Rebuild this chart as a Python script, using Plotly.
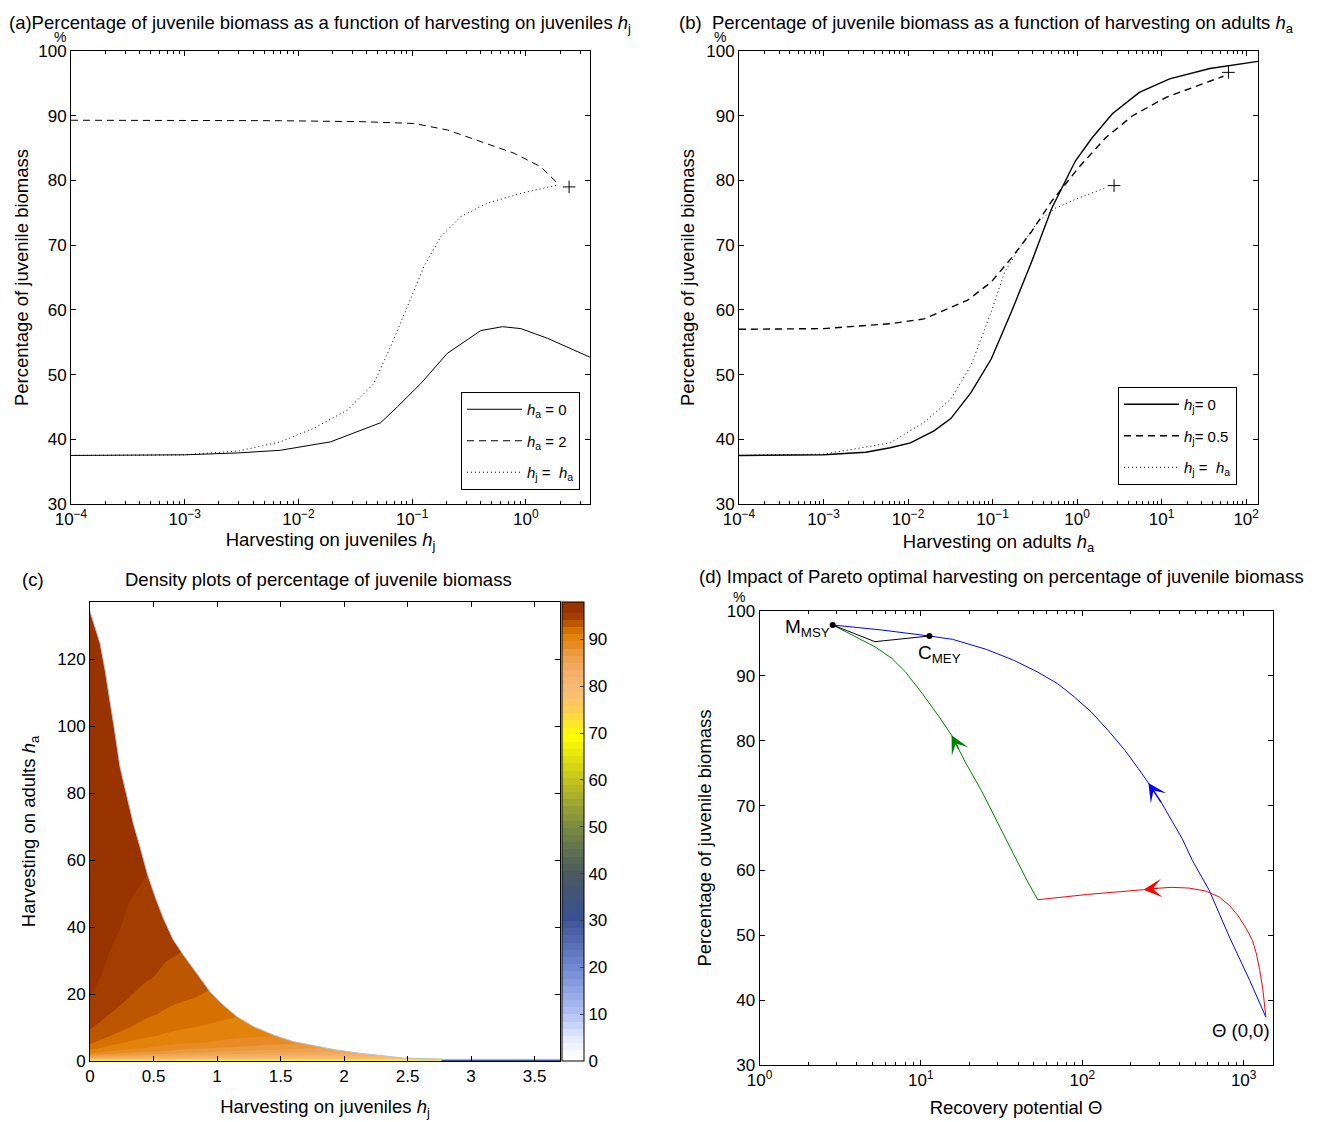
import numpy as np
import plotly.graph_objects as go

# ---------------- (a) harvesting on juveniles ----------------
a_hj_solid = [1e-4, 1e-3, 3e-3, 0.00692, 0.01914, 0.0527, 0.0741, 0.1189, 0.2042,
              0.4018, 0.6237, 0.9036, 1.552, 3.65]
a_pct_solid = [37.5, 37.6, 37.9, 38.3, 39.6, 42.55, 45.0, 48.6, 53.3,
               56.8, 57.4, 57.1, 55.6, 52.7]
a_hj_dash = [1e-4, 1e-3, 0.00693, 0.0376, 0.1038, 0.2042, 0.4018, 0.7889, 1.355, 1.901]
a_pct_dash = [89.3, 89.3, 89.23, 89.07, 88.8, 87.8, 86.0, 84.2, 82.1, 79.55]
a_hj_dot = [1e-4, 1e-3, 3e-3, 0.00692, 0.01365, 0.02685, 0.046, 0.0646, 0.0908, 0.127,
            0.1782, 0.2673, 0.4592, 0.9036, 1.901]
a_pct_dot = [37.5, 37.6, 38.2, 39.6, 41.7, 44.5, 48.6, 54.3, 60.5, 66.7,
             71.3, 74.4, 76.5, 78.0, 79.3]
a_plus_hj = [2.4]
a_plus_pct = [79.0]
a_names = ["<i>h</i><sub>a</sub> = 0", "<i>h</i><sub>a</sub> = 2", "<i>h</i><sub>j</sub> =  <i>h</i><sub>a</sub>"]

# ---------------- (b) harvesting on adults ----------------
b_ha_solid = [1e-4, 1e-3, 0.00316, 0.00615, 0.01067, 0.02028, 0.03206, 0.05546, 0.09638,
              0.1671, 0.2891, 0.5012, 0.9528, 1.507, 2.612, 5.445, 12.42, 37.24, 138]
b_pct_solid = [37.5, 37.6, 38.0, 38.7, 39.45, 41.3, 43.2, 47.2, 52.4,
               59.7, 67.4, 75.7, 83.0, 86.6, 90.3, 93.6, 95.7, 97.3, 98.4]
b_ha_dash = [1e-4, 1e-3, 0.00615, 0.01538, 0.0507, 0.09638, 0.1671, 0.2891, 0.5012,
             1.045, 2.178, 4.529, 11.32, 31.05, 53.83]
b_pct_dash = [57.0, 57.1, 57.85, 58.6, 61.5, 64.3, 68.0, 72.1, 76.8,
              82.0, 86.6, 90.0, 92.85, 94.9, 96.1]
b_ha_dot = [1e-4, 1e-3, 0.00615, 0.01538, 0.03206, 0.05546, 0.09638, 0.1393, 0.2198,
            0.3475, 0.5495, 1.045, 2.178]
b_pct_dot = [37.5, 37.7, 39.45, 42.6, 46.2, 51.4, 59.7, 65.9, 70.0,
             73.7, 75.7, 77.3, 78.85]
b_plus_ha = [61.7, 2.735]
b_plus_pct = [96.7, 79.2]
b_names = ["<i>h</i><sub>j</sub>= 0", "<i>h</i><sub>j</sub>= 0.5", "<i>h</i><sub>j</sub> =  <i>h</i><sub>a</sub>"]

log_ticks_ab = [1e-4, 1e-3, 1e-2, 1e-1, 1e0, 1e1, 1e2]
log_labels_ab = ["10<sup>−4</sup>", "10<sup>−3</sup>", "10<sup>−2</sup>", "10<sup>−1</sup>",
                 "10<sup>0</sup>", "10<sup>1</sup>", "10<sup>2</sup>"]
pct_ticks = [30, 40, 50, 60, 70, 80, 90, 100]

# ---------------- (c) density plot ----------------
c_hj = [0, 0.15, 0.3, 0.45, 0.6, 0.75, 0.95, 1.15, 1.45, 1.75, 2.1, 2.5, 2.76, 2.78, 3.7]
c_ha = [0, 0.5, 0.8, 1.2, 1.6, 2.2, 3, 4, 5.5, 7.5, 10, 14, 19, 25, 32, 42, 56, 75, 100, 137]
c_pct = [
    [68, 68, 68, 68, 68, 68, 68, 68, 68, 68, 68, 68, 68, 30, 30],
    [78.8, 78.4, 77.9, 77.5, 77.2, 76.9, 76.4, 76.1, 75.5, 75.1, 74.6, 74.2, 74.0, 30, 30],
    [82.3, 81.8, 81.3, 80.9, 80.6, 80.3, 80.0, 79.7, 79.3, 79.0, 78.6, 77.9, 77.6, 30, 30],
    [85.3, 84.5, 83.9, 83.4, 83.0, 82.7, 82.2, 81.9, 81.3, 80.9, 80.6, 80.2, 80.0, 30, 30],
    [87.3, 86.5, 85.8, 85.3, 84.8, 84.4, 83.9, 83.5, 82.9, 82.4, 81.9, 81.5, 81.3, 30, 30],
    [89.3, 88.2, 87.5, 87.0, 86.5, 86.1, 85.6, 85.2, 84.7, 84.1, 83.7, 83.1, 82.9, 30, 30],
    [90.8, 89.7, 89.0, 88.4, 88.0, 87.5, 87.0, 86.6, 86.1, 85.6, 85.2, 84.7, 84.5, 30, 30],
    [91.9, 90.7, 90.0, 89.6, 89.1, 88.7, 88.3, 87.9, 87.3, 86.8, 86.4, 85.8, 85.6, 30, 30],
    [92.9, 91.7, 91.0, 90.4, 90.0, 89.8, 89.5, 89.0, 88.5, 88.1, 87.7, 87.1, 86.9, 30, 30],
    [93.7, 92.7, 91.8, 91.3, 90.9, 90.5, 90.1, 89.9, 89.6, 89.1, 88.7, 88.3, 88.1, 30, 30],
    [94.3, 93.3, 92.7, 92.0, 91.5, 91.2, 90.9, 90.5, 90.1, 89.8, 89.6, 89.2, 89.0, 30, 30],
    [94.9, 94.2, 93.4, 92.9, 92.4, 92.0, 91.6, 91.3, 90.9, 90.5, 90.2, 89.9, 89.8, 30, 30],
    [95.7, 94.6, 94.2, 93.6, 93.1, 92.8, 92.4, 92.0, 91.5, 91.3, 90.9, 90.6, 90.5, 30, 30],
    [96.3, 95.2, 94.6, 94.3, 93.9, 93.4, 93.0, 92.7, 92.2, 91.8, 91.5, 91.1, 91.0, 30, 30],
    [96.9, 95.7, 95.0, 94.6, 94.3, 94.1, 93.6, 93.2, 92.8, 92.4, 92.0, 91.6, 91.5, 30, 30],
    [97.3, 96.0, 95.6, 95.1, 94.7, 94.5, 94.3, 94.0, 93.4, 93.0, 92.7, 92.3, 92.2, 30, 30],
    [97.4, 96.5, 95.9, 95.7, 95.2, 94.9, 94.7, 94.4, 94.2, 93.8, 93.3, 92.9, 92.8, 30, 30],
    [97.6, 97.1, 96.3, 96.0, 95.8, 95.5, 95.1, 94.8, 94.6, 94.4, 94.0, 93.5, 93.4, 30, 30],
    [97.9, 97.6, 96.8, 96.4, 96.2, 95.9, 95.8, 95.4, 95.1, 94.9, 94.5, 94.1, 94.0, 30, 30],
    [98.3, 98.3, 97.5, 97.0, 96.7, 96.3, 96.2, 95.9, 95.6, 95.4, 95.0, 94.6, 94.5, 30, 30],
]
# edge of the viable region (white above it)
c_edge_hj = [0, 0.039, 0.079, 0.118, 0.157, 0.197, 0.236, 0.289, 0.341, 0.394, 0.451,
             0.512, 0.577, 0.656, 0.735, 0.84, 0.945, 1.05, 1.155, 1.286, 1.444, 1.6,
             1.76, 1.94, 2.126, 2.31, 2.467, 2.76, 2.78, 3.7]
c_edge_ha = [134.4, 129.9, 124.9, 117, 108, 98, 88, 79, 71, 64, 56,
             49.2, 42.7, 36.2, 31.7, 26.2, 20.7, 16.7, 13.3, 10.3, 7.8, 5.8,
             4.6, 3.3, 2.3, 1.5, 0.9, 0.6, 0.5, 0.5]
c_xticks = [0, 0.5, 1, 1.5, 2, 2.5, 3, 3.5]
c_xlabels = ["0", "0.5", "1", "1.5", "2", "2.5", "3", "3.5"]
c_yticks = [0, 20, 40, 60, 80, 100, 120]
c_cbar_ticks = [0, 10, 20, 30, 40, 50, 60, 70, 80, 90]

# ---------------- (d) Pareto optimal harvesting ----------------
d_blue_theta = [2.84, 5.72, 11.3, 15.73, 25.47, 37.43, 52.48, 70.0, 89.13, 113.3, 144.2,
                183.6, 222.5, 257.0, 311.9, 359.7, 415.9, 480.8, 612.4, 816.6, 1091, 1374]
d_blue_pct = [97.84, 97.07, 96.14, 95.63, 94.08, 92.43, 90.63, 88.83, 86.77, 84.46, 81.63,
              78.54, 75.71, 73.49, 70.3, 67.73, 64.9, 61.55, 56.92, 49.72, 43.03, 37.37]
d_red_theta = [1374, 1349, 1310, 1259, 1200, 1133, 1040, 920.4, 816.6, 706.3, 583.4, 458.1,
               359.7, 283.1, 239.3, 107.9, 52.97]
d_red_pct = [37.37, 39.42, 41.99, 44.57, 47.14, 49.2, 51.0, 53.06, 54.6, 55.9, 56.82, 57.28,
             57.39, 57.23, 57.03, 56.3, 55.48]
d_green_theta = [52.97, 45.4, 37.43, 31.0, 23.66, 19.05, 15.49, 12.97, 10.19, 8.01, 6.61,
                 5.19, 4.08, 2.84]
d_green_pct = [55.48, 58.47, 62.58, 66.7, 72.36, 76.48, 80.85, 83.69, 87.29, 90.63, 92.69,
               94.49, 95.78, 97.84]
d_black_theta = [2.84, 5.19, 11.3]
d_black_pct = [97.84, 95.27, 96.14]
d_points_theta = [2.84, 11.3]
d_points_pct = [97.84, 96.14]
d_origin = (1374, 37.37)
# arrow heads: (head theta, head pct, tail theta, tail pct, colour)
d_arrows = [
    (15.49, 80.85, 17.3, 78.54, "green"),
    (257.0, 73.49, 311.9, 70.3, "blue"),
    (239.3, 57.03, 300.0, 57.25, "red"),
]
d_xticks = [1, 10, 100, 1000]
d_xlabels = ["10<sup>0</sup>", "10<sup>1</sup>", "10<sup>2</sup>", "10<sup>3</sup>"]

FONT = "Liberation Sans, Arial, Helvetica, sans-serif"
TICK = 17
LABEL = 18.5
# the page puts the figure 8 px in from the top-left corner
OFF = 8
PX_W, PX_H = 1324 - OFF, 1122 - OFF


def px(x):
    return (x - OFF) / PX_W


def py(y):
    return 1 - (y - OFF) / PX_H


def minor_logs(lo, hi):
    return [m * 10.0 ** e for e in range(lo, hi) for m in range(2, 10)]


def ax_style(**kw):
    d = dict(showline=True, linecolor="black", linewidth=1, mirror="ticks",
             ticks="inside", ticklen=5, tickcolor="black", showgrid=False,
             zeroline=False, automargin=False,
             tickfont=dict(size=TICK, color="black"),
             title_font=dict(size=LABEL, color="black"))
    d.update(kw)
    return d


fig = go.Figure()

# (a)
line_specs_a = [(a_hj_solid, a_pct_solid, dict(color="black", width=1)),
                (a_hj_dash, a_pct_dash, dict(color="black", width=1, dash="7px,5px")),
                (a_hj_dot, a_pct_dot, dict(color="black", width=1, dash="1px,3px"))]
for i, (xs, ys, ln) in enumerate(line_specs_a):
    fig.add_trace(go.Scatter(x=xs, y=ys, mode="lines", name=a_names[i], line=ln,
                             legendgroup=f"a{i}", xaxis="x", yaxis="y", legend="legend"))
fig.add_trace(go.Scatter(x=a_plus_hj, y=a_plus_pct, mode="markers", showlegend=False,
                         marker=dict(symbol="cross-thin", size=9, line=dict(color="black", width=1)),
                         xaxis="x", yaxis="y"))

# (b)
line_specs_b = [(b_ha_solid, b_pct_solid, dict(color="black", width=1.4)),
                (b_ha_dash, b_pct_dash, dict(color="black", width=1.4, dash="7px,5px")),
                (b_ha_dot, b_pct_dot, dict(color="black", width=1, dash="1px,3px"))]
for i, (xs, ys, ln) in enumerate(line_specs_b):
    fig.add_trace(go.Scatter(x=xs, y=ys, mode="lines", name=b_names[i], line=ln,
                             legendgroup=f"b{i}", xaxis="x2", yaxis="y2", legend="legend2"))
fig.add_trace(go.Scatter(x=b_plus_ha, y=b_plus_pct, mode="markers", showlegend=False,
                         marker=dict(symbol="cross-thin", size=9, line=dict(color="black", width=1)),
                         xaxis="x2", yaxis="y2"))

# (c)
cscale = [
    [0.0, "#ffffff"], [0.04, "#e6ebff"], [0.10, "#b0c0f4"], [0.20, "#7088d0"],
    [0.31, "#3a5090"], [0.41, "#4a5a5c"], [0.51, "#7a8a40"], [0.61, "#c0c020"],
    [0.71, "#ffff00"], [0.765, "#ffd050"], [0.81, "#f8bc78"], [0.85, "#f4b068"],
    [0.89, "#eca048"], [0.915, "#e68a20"], [0.937, "#e07f00"], [0.953, "#c86000"],
    [0.969, "#b04a00"], [0.982, "#993300"], [1.0, "#993300"],
]
band = 98 / 64
fig.add_trace(go.Contour(
    x=c_hj, y=c_ha, z=c_pct, xaxis="x3", yaxis="y3",
    colorscale=cscale, zmin=0, zmax=98, showscale=True,
    contours=dict(start=band / 2, end=98, size=band, coloring="fill", showlines=False),
    line=dict(width=0),
    colorbar=dict(x=px(562), xanchor="left", y=py(1061), yanchor="bottom",
                  len=(1061 - 602) / PX_H, lenmode="fraction", thickness=22,
                  xpad=0, ypad=0, tickvals=c_cbar_ticks, ticks="inside", ticklen=4,
                  outlinewidth=1, outlinecolor="black",
                  tickfont=dict(size=TICK, color="black")),
))
fig.add_trace(go.Scatter(x=c_edge_hj, y=c_edge_ha, mode="lines", showlegend=False,
                         line=dict(width=0), xaxis="x3", yaxis="y3"))
fig.add_trace(go.Scatter(x=[0, 3.7], y=[137.2, 137.2], mode="lines", showlegend=False,
                         line=dict(width=0), fill="tonexty", fillcolor="white",
                         xaxis="x3", yaxis="y3"))
fig.add_trace(go.Scatter(x=c_edge_hj, y=c_edge_ha, mode="lines", showlegend=False,
                         line=dict(width=1, color="#b4c0d8"), xaxis="x3", yaxis="y3"))

# (d)
fig.add_trace(go.Scatter(x=d_blue_theta, y=d_blue_pct, mode="lines", showlegend=False,
                         line=dict(color="blue", width=1), xaxis="x4", yaxis="y4"))
fig.add_trace(go.Scatter(x=d_red_theta, y=d_red_pct, mode="lines", showlegend=False,
                         line=dict(color="red", width=1), xaxis="x4", yaxis="y4"))
fig.add_trace(go.Scatter(x=d_green_theta, y=d_green_pct, mode="lines", showlegend=False,
                         line=dict(color="green", width=1), xaxis="x4", yaxis="y4"))
fig.add_trace(go.Scatter(x=d_black_theta, y=d_black_pct, mode="lines", showlegend=False,
                         line=dict(color="black", width=1), xaxis="x4", yaxis="y4"))
fig.add_trace(go.Scatter(x=d_points_theta, y=d_points_pct, mode="markers", showlegend=False,
                         marker=dict(color="black", size=6), xaxis="x4", yaxis="y4"))

annotations = []
for hx, hy, tx, ty, col in d_arrows:
    annotations.append(dict(x=np.log10(hx), y=hy, ax=np.log10(tx), ay=ty, xref="x4", yref="y4",
                            axref="x4", ayref="y4", text="", showarrow=True, arrowhead=3,
                            arrowsize=2.2, arrowwidth=1.4, arrowcolor=col))

txt = dict(size=LABEL, color="black", family=FONT)
pct_font = dict(size=14, color="black", family=FONT)
annotations += [
    dict(x=np.log10(d_points_theta[0]), y=d_points_pct[0], xref="x4", yref="y4",
         text="M<sub>MSY</sub>", showarrow=False, xanchor="right", yanchor="middle",
         xshift=-1, yshift=-3, font=dict(size=19, color="black", family=FONT)),
    dict(x=np.log10(d_points_theta[1]), y=d_points_pct[1], xref="x4", yref="y4",
         text="C<sub>MEY</sub>", showarrow=False, xanchor="left", yanchor="top",
         xshift=-13, yshift=-4, font=dict(size=19, color="black", family=FONT)),
    dict(x=np.log10(d_origin[0]), y=d_origin[1], xref="x4", yref="y4",
         text="Θ (0,0)", showarrow=False, xanchor="right", yanchor="top",
         xshift=6, yshift=-1, font=txt),
    # titles
    dict(x=px(8), y=py(11), xref="paper", yref="paper", xanchor="left", yanchor="top",
         showarrow=False, font=txt, borderpad=0,
         text="(a)Percentage of juvenile biomass as a function of harvesting on juveniles <i>h</i><sub>j</sub>"),
    dict(x=px(678), y=py(11), xref="paper", yref="paper", xanchor="left", yanchor="top",
         showarrow=False, font=txt, borderpad=0,
         text="(b)  Percentage of juvenile biomass as a function of harvesting on adults <i>h</i><sub>a</sub>"),
    dict(x=px(20), y=py(579), xref="paper", yref="paper", xanchor="left", yanchor="middle",
         showarrow=False, font=txt, text="(c)"),
    dict(x=px(318), y=py(579), xref="paper", yref="paper", xanchor="center", yanchor="middle",
         showarrow=False, font=txt, text="Density plots of percentage of juvenile biomass"),
    dict(x=px(697), y=py(576), xref="paper", yref="paper", xanchor="left", yanchor="middle",
         showarrow=False, font=txt,
         text="(d) Impact of Pareto optimal harvesting on percentage of juvenile biomass"),
    dict(x=px(60), y=py(37), xref="paper", yref="paper", xanchor="center", yanchor="middle",
         showarrow=False, font=pct_font, text="%", borderpad=0),
    dict(x=px(720), y=py(37), xref="paper", yref="paper", xanchor="center", yanchor="middle",
         showarrow=False, font=pct_font, text="%", borderpad=0),
    dict(x=px(739), y=py(597), xref="paper", yref="paper", xanchor="center", yanchor="middle",
         showarrow=False, font=pct_font, text="%", borderpad=0),
]

legend_style = dict(bgcolor="white", bordercolor="black", borderwidth=1,
                    font=dict(size=15, color="black", family=FONT), traceorder="grouped",
                    xanchor="right", yanchor="top", itemwidth=55, tracegroupgap=9)

fig.update_layout(
    width=PX_W, height=PX_H,
    margin=dict(l=0, r=0, t=0, b=0, autoexpand=False),
    paper_bgcolor="white", plot_bgcolor="white",
    font=dict(family=FONT, size=TICK, color="black"),
    annotations=annotations,
    legend=dict(x=px(580), y=py(392), **legend_style),
    legend2=dict(x=px(1237), y=py(387), **legend_style),
    xaxis=ax_style(type="log", range=[-4, 0.564], domain=[px(71), px(590)], anchor="y",
                   tickvals=log_ticks_ab[:5], ticktext=log_labels_ab[:5],
                   minor=dict(tickvals=minor_logs(-4, 1), ticks="inside", ticklen=3, tickcolor="black"),
                   title=dict(text="Harvesting on juveniles <i>h</i><sub>j</sub>", standoff=2)),
    yaxis=ax_style(range=[30, 100], domain=[py(504), py(51)], anchor="x", tickvals=pct_ticks,
                   title=dict(text="Percentage of juvenile biomass", standoff=4)),
    xaxis2=ax_style(type="log", range=[-4, 2.14], domain=[px(739), px(1258)], anchor="y2",
                    tickvals=log_ticks_ab, ticktext=log_labels_ab,
                    minor=dict(tickvals=minor_logs(-4, 3), ticks="inside", ticklen=3, tickcolor="black"),
                    title=dict(text="Harvesting on adults <i>h</i><sub>a</sub>", standoff=6)),
    yaxis2=ax_style(range=[30, 100], domain=[py(504), py(51)], anchor="x2", tickvals=pct_ticks,
                    title=dict(text="Percentage of juvenile biomass", standoff=6)),
    xaxis3=ax_style(range=[0, 3.7], domain=[px(90), px(560)], anchor="y3",
                    tickvals=c_xticks, ticktext=c_xlabels,
                    title=dict(text="Harvesting on juveniles <i>h</i><sub>j</sub>", standoff=14)),
    yaxis3=ax_style(range=[0, 137.2], domain=[py(1061), py(602)], anchor="x3", tickvals=c_yticks,
                    title=dict(text="Harvesting on adults <i>h</i><sub>a</sub>", standoff=16)),
    xaxis4=ax_style(type="log", range=[0, 3.18], domain=[px(759.5), px(1272.7)], anchor="y4",
                    tickvals=d_xticks, ticktext=d_xlabels,
                    minor=dict(tickvals=minor_logs(0, 4), ticks="inside", ticklen=3, tickcolor="black"),
                    title=dict(text="Recovery potential Θ", standoff=11)),
    yaxis4=ax_style(range=[30, 100], domain=[py(1065), py(611)], anchor="x4", tickvals=pct_ticks,
                    title=dict(text="Percentage of juvenile biomass", standoff=10)),
)

fig.write_html("out.html")
